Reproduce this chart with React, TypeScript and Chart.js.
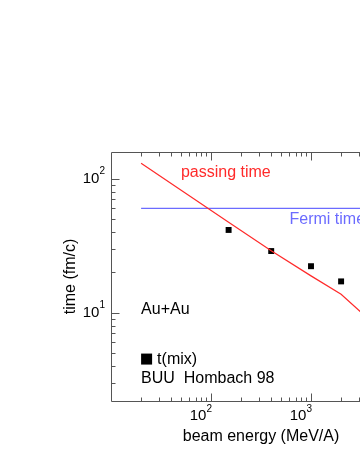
import { useEffect, useRef } from 'react';
import { Chart, registerables } from 'chart.js';

Chart.register(...registerables);

// ---- data ----
const passingEnergy = [20, 150, 400, 1000, 2000, 5000, 10000];
const passingTime = [130, 47.3, 28.9, 18.8, 13.7, 7.4, 5.5];
const fermiEnergy = [20, 10000];
const fermiTime = [60, 60];
const mixEnergy = [150, 400, 1000, 2000];
const mixTime = [41.4, 28.8, 22.2, 17.1];

const xMajorTicks = [100, 1000, 10000];
const xMinorTicks = [20, 30, 40, 50, 60, 70, 80, 90, 200, 300, 400, 500, 600, 700, 800, 900, 2000, 3000, 4000, 5000, 6000, 7000, 8000, 9000];
const yMajorTicks = [10, 100];
const yMinorTicks = [3, 4, 5, 6, 7, 8, 9, 20, 30, 40, 50, 60, 70, 80, 90];

const xRange = [10, 10000];
const yRange = [2.19, 158];

const FONT = '"Liberation Sans", Arial, Helvetica, sans-serif';
const RED = '#ff2a2a';
const BLUE = '#6b6bff';

const frame = {
  id: 'frame',
  afterDraw(chart: any) {
    const { ctx, chartArea: a, scales } = chart;
    const xs = scales.x;
    const ys = scales.y;
    const L = Math.round(a.left) + 0.5;
    const R = Math.round(a.right) + 0.5;
    const T = Math.round(a.top) + 0.5;
    const B = Math.round(a.bottom) + 0.5;
    ctx.save();
    ctx.strokeStyle = '#555';
    ctx.lineWidth = 1;
    ctx.beginPath();
    ctx.moveTo(L, T); ctx.lineTo(R, T); ctx.lineTo(R, B); ctx.lineTo(L, B); ctx.closePath();
    const xt = [...xMajorTicks.map(v => [v, 8]), ...xMinorTicks.map(v => [v, 4])];
    xt.forEach(([v, len]) => {
      const p = Math.round(xs.getPixelForValue(v)) + 0.5;
      ctx.moveTo(p, B); ctx.lineTo(p, B - len);
      ctx.moveTo(p, T); ctx.lineTo(p, T + len);
    });
    const yt = [...yMajorTicks.map(v => [v, 8]), ...yMinorTicks.map(v => [v, 4])];
    yt.forEach(([v, len]) => {
      const p = Math.round(ys.getPixelForValue(v)) + 0.5;
      ctx.moveTo(L, p); ctx.lineTo(L + len, p);
      ctx.moveTo(R, p); ctx.lineTo(R - len, p);
    });
    ctx.stroke();

    // tick labels: 10 with raised exponent
    const big = `15px ${FONT}`;
    const small = `10px ${FONT}`;
    const drawPow = (v: number, right: number, cy: number) => {
      const e = String(Math.round(Math.log10(v)));
      ctx.font = small;
      const we = ctx.measureText(e).width;
      ctx.font = big;
      const wb = ctx.measureText('10').width;
      ctx.fillStyle = '#000';
      ctx.textBaseline = 'middle';
      ctx.textAlign = 'left';
      ctx.font = big;
      ctx.fillText('10', right - we - wb, cy);
      ctx.font = small;
      ctx.fillText(e, right - we, cy - 7);
    };
    xMajorTicks.forEach(v => drawPow(v, xs.getPixelForValue(v) + 1, a.bottom + 15));
    yMajorTicks.forEach(v => drawPow(v, a.left - 6, ys.getPixelForValue(v)));

    // annotations (data coordinates)
    ctx.font = `16px ${FONT}`;
    ctx.textBaseline = 'middle';
    ctx.textAlign = 'left';
    ctx.fillStyle = RED;
    ctx.fillText('passing time', xs.getPixelForValue(50), ys.getPixelForValue(110));
    ctx.fillStyle = BLUE;
    ctx.fillText('Fermi time', xs.getPixelForValue(610), ys.getPixelForValue(49.8));
    ctx.fillStyle = '#000';
    ctx.fillText('Au+Au', xs.getPixelForValue(20), ys.getPixelForValue(10.6));
    const sx = xs.getPixelForValue(20);
    const sy = ys.getPixelForValue(4.54);
    ctx.fillRect(sx, sy - 5, 11, 11);
    ctx.fillText('t(mix)', sx + 16, sy + 1);
    ctx.fillText('BUU  Hombach 98', sx, ys.getPixelForValue(3.2));
    ctx.restore();
  },
};

export default function App() {
  const ref = useRef<HTMLCanvasElement>(null);
  useEffect(() => {
    if (!ref.current) return;
    Chart.defaults.font.family = FONT;
    const chart = new Chart(ref.current, {
      type: 'scatter',
      data: {
        datasets: [
          {
            label: 'passing time',
            data: passingEnergy.map((x, i) => ({ x, y: passingTime[i] })),
            showLine: true,
            borderColor: RED,
            borderWidth: 1.2,
            pointRadius: 0,
          },
          {
            label: 'Fermi time',
            data: fermiEnergy.map((x, i) => ({ x, y: fermiTime[i] })),
            showLine: true,
            borderColor: BLUE,
            borderWidth: 1.2,
            pointRadius: 0,
          },
          {
            label: 't(mix)',
            data: mixEnergy.map((x, i) => ({ x, y: mixTime[i] })),
            showLine: false,
            pointStyle: 'rect',
            pointRadius: 4.2,
            backgroundColor: '#000',
            borderColor: '#000',
            borderWidth: 0,
          },
        ],
      },
      options: {
        animation: false,
        responsive: false,
        layout: { padding: { top: 152, left: 0, right: 9, bottom: 0 } },
        plugins: { legend: { display: false }, tooltip: { enabled: false } },
        scales: {
          x: {
            type: 'logarithmic',
            min: xRange[0],
            max: xRange[1],
            bounds: 'data',
            grid: { display: false },
            border: { display: false },
            ticks: { display: false },
            afterFit: (s: any) => { s.height = 65; },
            title: { display: true, text: 'beam energy (MeV/A)', color: '#000', font: { size: 16 }, padding: { bottom: 20, top: 0 } },
          },
          y: {
            type: 'logarithmic',
            min: yRange[0],
            max: yRange[1],
            bounds: 'data',
            grid: { display: false },
            border: { display: false },
            ticks: { display: false },
            afterFit: (s: any) => { s.width = 111; },
            title: { display: true, text: 'time (fm/c)', color: '#000', font: { size: 16 }, padding: { top: 61, bottom: 0 } },
          },
        },
      },
      plugins: [frame],
    });
    return () => chart.destroy();
  }, []);
  return (
    <div style={{ position: 'fixed', left: 0, top: 0, width: 360, height: 466, overflow: 'hidden', background: '#fff' }}>
      <canvas ref={ref} width={420} height={466} style={{ display: 'block', width: 420, height: 466 }} />
    </div>
  );
}
